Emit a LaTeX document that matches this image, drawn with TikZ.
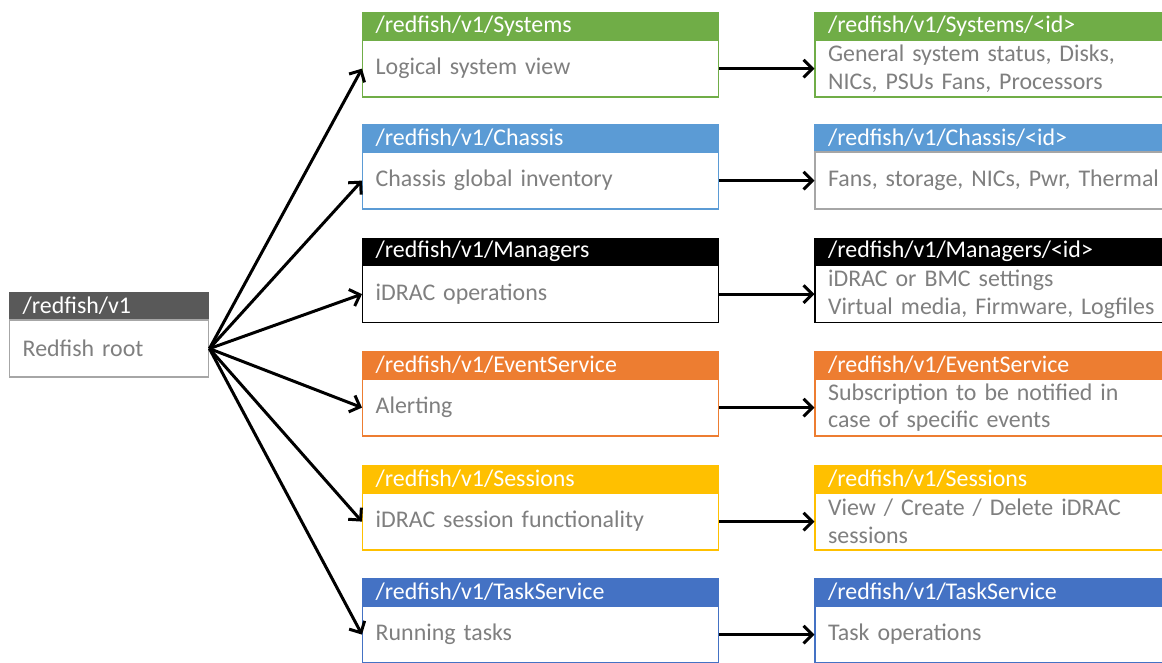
\documentclass[tikz,border=0pt]{standalone}
\usepackage{fontspec}
\setmainfont{Carlito}
\usepackage{tikz}
\usetikzlibrary{arrows.meta,positioning}
\definecolor{rfroot}{HTML}{595959}
\definecolor{rfgray}{HTML}{A6A6A6}
\definecolor{rfgreen}{HTML}{70AD47}
\definecolor{rfblue}{HTML}{5B9BD5}
\definecolor{rforange}{HTML}{ED7D31}
\definecolor{rfyellow}{HTML}{FFC000}
\definecolor{rfdark}{HTML}{4472C4}
\definecolor{rftext}{HTML}{7F7F7F}
\tikzset{
    -{Straight Barb[length=5pt,width=10pt]},
    every edge/.append style={line width=1.7pt},
    hdr/.style ={rectangle, fill=#1, draw=#1, line width=0.8pt, text=white, anchor=north west,
        minimum height=0.52cm, inner ysep=0pt, inner xsep=0.26cm, align=left,
        font=\fontsize{13.6}{15.9}\selectfont},
    body/.style={rectangle, draw=#1, fill=white, line width=0.8pt, text=rftext,
        minimum height=1.14cm, inner ysep=0pt, inner xsep=0.26cm, align=left,
        font=\fontsize{13.6}{15.9}\selectfont},
    rootw/.style={text width=3.46cm},
    mid/.style={text width=6.6cm},
    rt/.style={text width=7.48cm}
}
\begin{document}
\begin{tikzpicture}
	\useasboundingbox (0,0) rectangle (23.24,-13.24);
	\clip (0,0) rectangle (23.24,-13.24);

	\node (0h) [hdr=rfroot, rootw] at (0.18,-5.84) {/redfish/v1};
	\node (0) [body=rfgray, rootw, below = 0pt of 0h] {Redfish root};

	\node (1h) [hdr=rfgreen, mid] at (7.24,-0.24) {/redfish/v1/Systems};
	\node (1) [body=rfgreen, mid, below = 0pt of 1h] {Logical system view};
	\node (2h) [hdr=rfblue, mid] at (7.24,-2.48) {/redfish/v1/Chassis};
	\node (2) [body=rfblue, mid, below = 0pt of 2h] {Chassis global inventory};
	\node (3h) [hdr=black, mid] at (7.24,-4.75) {/redfish/v1/Managers};
	\node (3) [body=black, mid, below = 0pt of 3h] {iDRAC operations};
	\node (4h) [hdr=rforange, mid] at (7.24,-7.02) {/redfish/v1/EventService};
	\node (4) [body=rforange, mid, below = 0pt of 4h] {Alerting};
	\node (5h) [hdr=rfyellow, mid] at (7.24,-9.30) {/redfish/v1/Sessions};
	\node (5) [body=rfyellow, mid, below = 0pt of 5h] {iDRAC session functionality};
	\node (6h) [hdr=rfdark, mid] at (7.24,-11.56) {/redfish/v1/TaskService};
	\node (6) [body=rfdark, mid, below = 0pt of 6h] {Running tasks};

	\node (11h) [hdr=rfgreen, rt, right = 1.9cm of 1h] {/redfish/v1/Systems/<id>};
	\node (11) [body=rfgreen, rt, below = 0pt of 11h] {General system status, Disks,\\NICs, PSUs Fans, Processors};
	\node (12h) [hdr=rfblue, rt, right = 1.9cm of 2h] {/redfish/v1/Chassis/<id>};
	\node (12) [body=rfgray, rt, below = 0pt of 12h] {Fans, storage, NICs, Pwr, Thermal};
	\node (13h) [hdr=black, rt, right = 1.9cm of 3h] {/redfish/v1/Managers/<id>};
	\node (13) [body=black, rt, below = 0pt of 13h] {iDRAC or BMC settings\\Virtual media, Firmware, Logfiles};
	\node (14h) [hdr=rforange, rt, right = 1.9cm of 4h] {/redfish/v1/EventService};
	\node (14) [body=rforange, rt, below = 0pt of 14h] {Subscription to be notified in\\case of specific events};
	\node (15h) [hdr=rfyellow, rt, right = 1.9cm of 5h] {/redfish/v1/Sessions};
	\node (15) [body=rfyellow, rt, below = 0pt of 15h] {View / Create / Delete iDRAC\\sessions};
	\node (16h) [hdr=rfdark, rt, right = 1.9cm of 6h] {/redfish/v1/TaskService};
	\node (16) [body=rfdark, rt, below = 0pt of 16h] {Task operations};

	\path (0.east) edge (1.west);
	\path (0.east) edge (2.west);
	\path (0.east) edge (3.west);
	\path (0.east) edge (4.west);
	\path (0.east) edge (5.west);
	\path (0.east) edge (6.west);
	\path (1.east) edge (11.west);
	\path (2.east) edge (12.west);
	\path (3.east) edge (13.west);
	\path (4.east) edge (14.west);
	\path (5.east) edge (15.west);
	\path (6.east) edge (16.west);
\end{tikzpicture}
\end{document}
